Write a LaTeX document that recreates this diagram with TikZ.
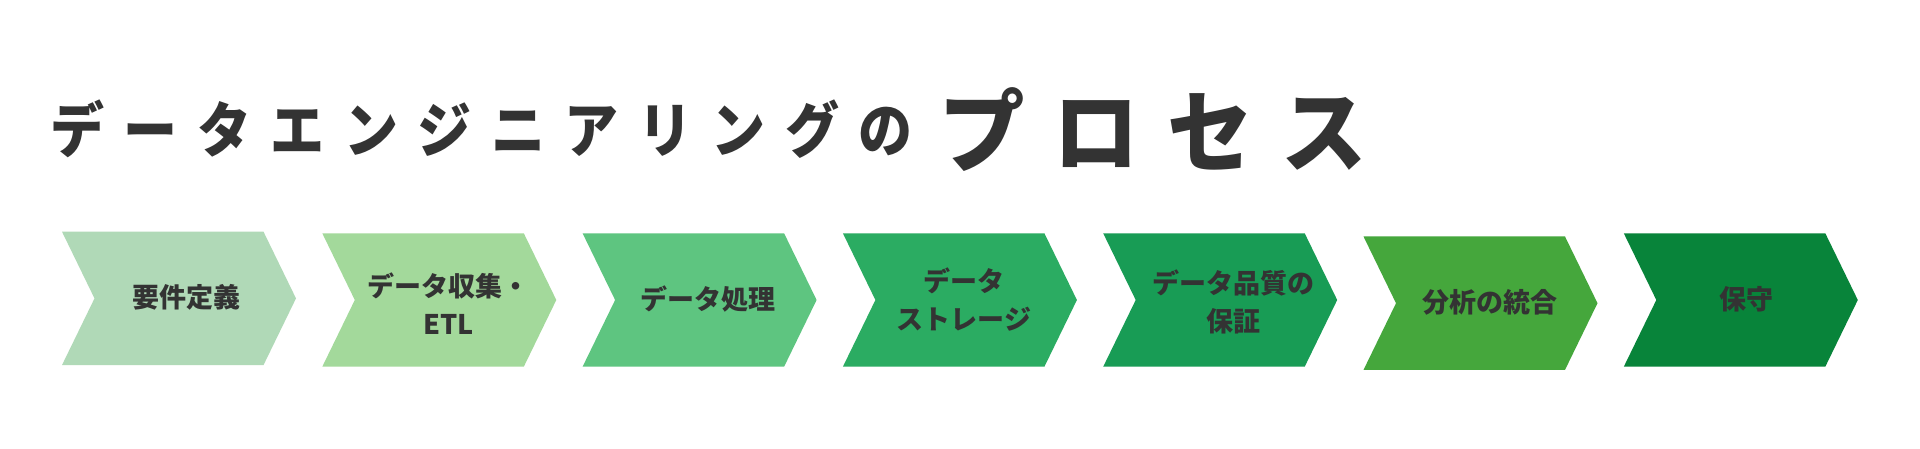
\documentclass[tikz,border=0pt]{standalone}
\usepackage{fontspec}
\setmainfont{Noto Sans CJK JP}
\definecolor{txt}{HTML}{333333}
\definecolor{cA}{HTML}{B0D9B7}
\definecolor{cB}{HTML}{A3D99B}
\definecolor{cC}{HTML}{5EC580}
\definecolor{cD}{HTML}{2BAC62}
\definecolor{cE}{HTML}{189C55}
\definecolor{cF}{HTML}{45A73C}
\definecolor{cG}{HTML}{08843A}
\newcommand\cstrut{\rule[-.12em]{0pt}{1em}}
% left, top, colour, name, text, x offset, y offset
\newcommand\mychev[7]{%
  \fill[#3] (#1,#2) -- ++(201.5,0) -- ++(32.5,66.7) -- ++(-32.5,66.7) -- ++(-201.5,0) -- ++(32.5,-66.7) -- cycle;
  \path (#1,#2) ++(#6,#7) node[lbl] (#4) {#5};}
\begin{document}
\begin{tikzpicture}[x=1pt,y=-1pt,
  lbl/.style={font=\bfseries\fontsize{27}{38}\selectfont, text=txt, inner sep=0pt, align=center},
  ttl/.style={font=\bfseries\fontsize{60}{60}\selectfont, text=txt, inner sep=0pt, xscale=0.9, transform shape},
  ttlb/.style={font=\bfseries\fontsize{90}{90}\selectfont, text=txt, inner sep=0pt, xscale=0.95, transform shape}]
\useasboundingbox (0,0) rectangle (1920,449);
\fill[white] (0,0) rectangle (1920,449);
% title
\foreach \ch [count=\i from 0] in {デ,ー,タ,エ,ン,ジ,ニ,ア,リ,ン,グ,の}
  \node[ttl] (t\i) at ({77+73.5*\i},130) {\cstrut\ch};
\foreach \ch/\xx [count=\i] in {プ/982,ロ/1096,セ/1210,ス/1324}
  \node[ttlb] (p\i) at (\xx,131) {\cstrut\ch};
% chevrons
\mychev{62}{231.7}{cA}{s1}{\cstrut 要件定義}{124}{65.7}
\mychev{322.3}{233.3}{cB}{s2}{\cstrut データ収集・\\\cstrut ETL}{126}{72}
\mychev{582.6}{233.3}{cC}{s3}{\cstrut データ処理}{125}{65.7}
\mychev{842.9}{233.3}{cD}{s4}{\cstrut データ\\\cstrut ストレージ}{121}{66.5}
\mychev{1103.2}{233.3}{cE}{s5}{\cstrut データ品質の\\\cstrut 保証}{130}{69}
\mychev{1363.5}{236.5}{cF}{s6}{\cstrut 分析の統合}{126}{65.7}
\mychev{1623.8}{233.3}{cG}{s7}{\cstrut 保守}{123}{65.7}
\end{tikzpicture}
\end{document}
